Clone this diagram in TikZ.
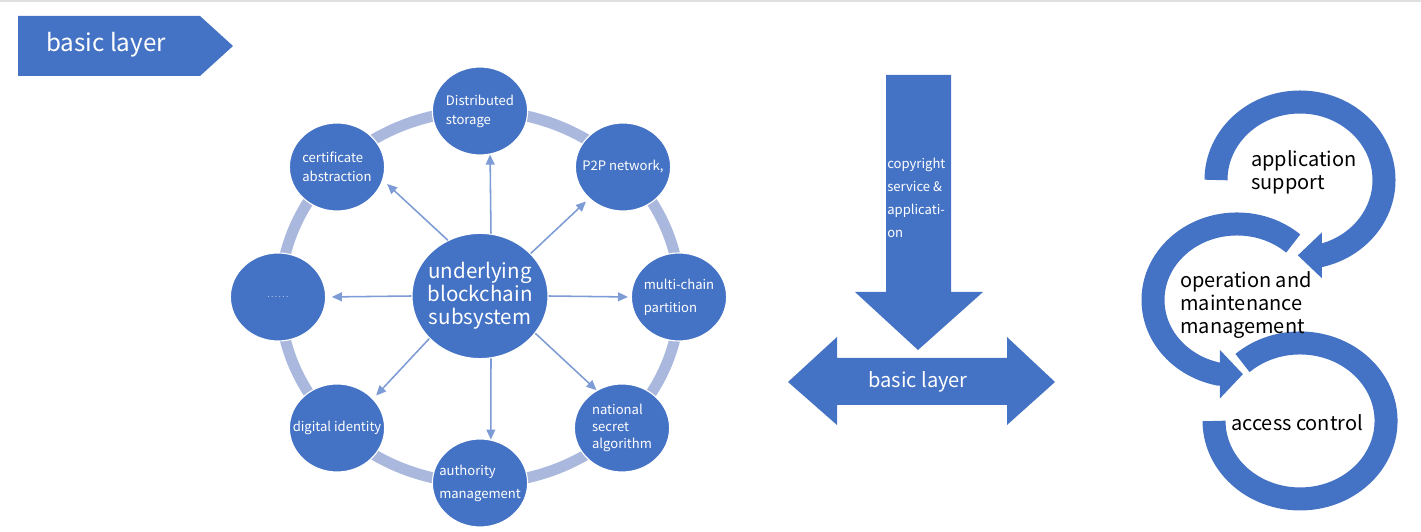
\documentclass[tikz,border=0pt]{standalone}
\usepackage{fontspec}
\setmainfont{Noto Sans CJK SC}
\usetikzlibrary{shapes,arrows.meta}

\definecolor{baseblue}{RGB}{68,114,196}
\definecolor{ringblue}{RGB}{170,184,222}
\definecolor{linkblue}{RGB}{125,155,212}

\begin{document}
\begin{tikzpicture}[x=0.025cm, y=0.025cm,
    cnode/.style={ellipse, fill=baseblue, draw=white, line width=0.8pt, minimum width=2.38cm, minimum height=2.2cm, inner xsep=-0.35cm, inner ysep=0pt, text=white, align=left, font=\fontsize{9.3}{13.5}\selectfont},
    hub/.style={ellipse, fill=baseblue, draw=white, line width=0.8pt, minimum width=3.4cm, minimum height=3.13cm, inner xsep=-0.15cm, inner ysep=0pt, text=white, align=center, font=\fontsize{14.6}{16.4}\selectfont},
    link/.style={-{Triangle[length=0.25cm, width=0.22cm]}, draw=linkblue, line width=1.1pt},
    cyc/.style={draw=baseblue, line width=0.575cm},
    lbl/.style={anchor=west, inner sep=0pt, align=left, font=\fontsize{14.2}{16.4}\selectfont}
  ]
    \useasboundingbox (0,0) rectangle (1421,532);
    % top rule
    \draw[black!12, line width=2pt] (0,531) -- (1421,531);

    % Banner
    \fill[baseblue] (18,516) -- (200,516) -- (233,486) -- (200,456) -- (18,456) -- cycle;
    \node[text=white, font=\fontsize{17.2}{19}\selectfont] (banner) at (106,487) {basic layer};

    % Ring of services
    \draw[ringblue, line width=0.275cm] (480,235) ellipse [x radius=200, y radius=186];

    \node[hub] (core) at (480,236) {underlying\\blockchain\\subsystem};
    \node[cnode] (store) at (480,421) {Distributed\\storage};
    \node[cnode] (ptp) at (623,365) {P2P network,};
    \node[cnode] (multi) at (679,235) {multi-chain\\[2.8pt]partition};
    \node[cnode, font=\fontsize{9.3}{12}\selectfont] (secret) at (622,104) {national\\secret\\algorithm};
    \node[cnode] (auth) at (480,49) {authority\\[2.8pt]management};
    \node[cnode] (ident) at (337,104) {digital identity};
    \node[cnode, font=\fontsize{6}{7}\selectfont, text=white!65!baseblue] (etc) at (278,235) {.\,.\,.\,.\,.\,.};
    \node[cnode] (cert) at (337,365) {certificate\\abstraction};

    \draw[link] (core.80) -- (store.283);
    \draw[link, shorten >=3pt] (core.40) -- (ptp.223);
    \draw[link, shorten >=2pt] (core.east) -- (multi.west);
    \draw[link] (core.-34) -- (secret.124);
    \draw[link] (core.-80) -- (auth.76);
    \draw[link, shorten >=3pt] (core.220) -- (ident.39);
    \draw[link, shorten >=4pt] (core.west) -- (etc.east);
    \draw[link, shorten >=4pt] (core.120) -- (cert.-16);

    % Big arrows
    \fill[baseblue] (886,457) -- (951,457) -- (951,240) -- (983,240) -- (918,182) -- (855,240) -- (886,240) -- cycle;
    \fill[baseblue] (788,150) -- (837,195) -- (837,174) -- (1007,174) -- (1007,195) -- (1055,150) -- (1007,107) -- (1007,127) -- (837,127) -- (837,107) -- cycle;
    \node[anchor=west, inner sep=0pt, text=white, align=left, font=\fontsize{9.3}{16.4}\selectfont] (copy) at (887,334) {copyright\\service \&\\applicati-\\on};
    \node[text=white, font=\fontsize{14.3}{16}\selectfont] (base) at (918,150) {basic layer};

    % Cycle of three arcs
    \draw[cyc, -{Triangle[length=0.6cm, width=1.1cm]}] (1216,352) arc[start angle=180, end angle=-75, x radius=84, y radius=78] -- ++(-24,0);
    \draw[cyc, -{Triangle[length=0.575cm, width=1.175cm]}] (1293.2,288.5) arc[start angle=48, end angle=257.6, x radius=84, y radius=76] -- ++(24,0);
    \draw[cyc] (1242.5,169) arc[start angle=132, end angle=-180, x radius=86, y radius=78];

    \node[lbl] (appsup) at (1251,360) {application\\support};
    \node[lbl] (opmgmt) at (1180,227) {operation and\\maintenance\\management};
    \node[lbl] (access) at (1231,109) {access control};
\end{tikzpicture}
\end{document}
